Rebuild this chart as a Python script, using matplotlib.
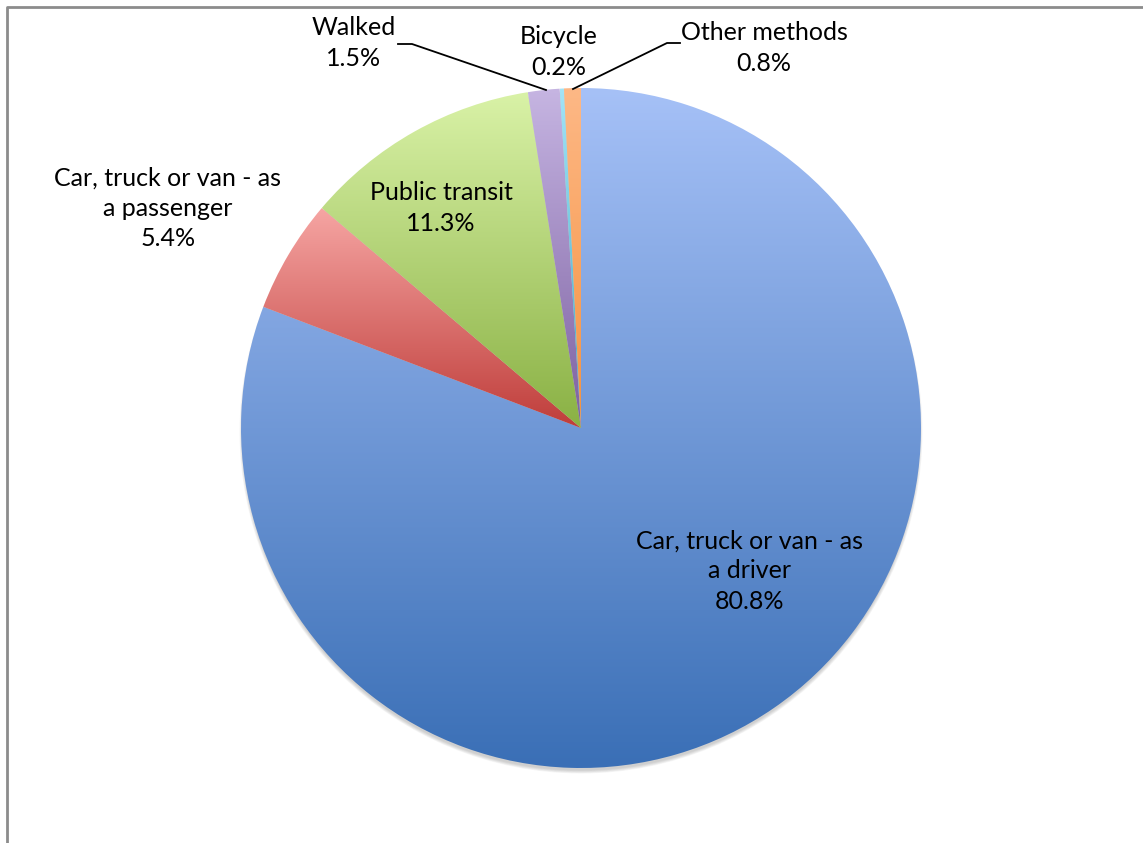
import matplotlib
matplotlib.use('Agg')
import matplotlib.pyplot as plt
import numpy as np
from matplotlib.colors import LinearSegmentedColormap
from matplotlib.patches import Circle

# data
categories = ['Car, truck or van - as a driver', 'Car, truck or van - as a passenger',
              'Public transit', 'Walked', 'Bicycle', 'Other methods']
shares = [80.8, 5.4, 11.3, 1.5, 0.2, 0.8]
label_texts = ['Car, truck or van - as\na driver', 'Car, truck or van - as\na passenger',
               'Public transit', 'Walked', 'Bicycle', 'Other methods']

# gradient colours per slice (top, bottom)
grad_colors = [('#a6c1f7', '#3a6fb6'), ('#f6a5a3', '#bf3d3a'), ('#d9f2a7', '#8ab144'),
               ('#c6b5e2', '#7c60a1'), ('#a3e4f7', '#3fa6c3'), ('#fdb886', '#f5923f')]

W, H = 1143, 843
fig = plt.figure(figsize=(W / 100, H / 100), dpi=100)
ax = fig.add_axes([0, 0, 1, 1])
plt.rcParams['font.family'] = ['Lato', 'DejaVu Sans']

def Y(y):
    # screen pixel y -> data y
    return H - y

cx, cy, r = 581, Y(428), 340

# soft shadow under the pie
for i in range(6):
    ax.add_patch(Circle((cx, cy - 4), r + 1.5 - i * 0.6, color='#808080', alpha=0.07, lw=0, zorder=1))

wedges, _ = ax.pie(shares, center=(cx, cy), radius=r, startangle=90, counterclock=False,
                   wedgeprops=dict(linewidth=0))

for w, (ctop, cbot) in zip(wedges, grad_colors):
    w.set_facecolor('none')
    w.set_zorder(2)
    ext = w.get_path().get_extents(w.get_patch_transform())
    cmap = LinearSegmentedColormap.from_list('g', [cbot, ctop])
    grad = np.linspace(0, 1, 256).reshape(-1, 1)
    im = ax.imshow(grad, extent=[ext.x0, ext.x1, ext.y0, ext.y1], origin='lower',
                   cmap=cmap, aspect='auto', interpolation='bilinear', zorder=2)
    im.set_clip_path(w)

# data labels
label_pos = [(750, 571), (168, 208), (441, 208), (354, 43), (559, 52), (764, 48)]
for txt, val, (lx, ly) in zip(label_texts, shares, label_pos):
    ax.text(lx, Y(ly), '%s\n%.1f%%' % (txt, val), ha='center', va='center',
            fontsize=18, linespacing=1.38, color='black', zorder=5)

# leader lines
ax.plot([398, 412, 546], [Y(44), Y(44), Y(90)], color='black', lw=1.3, zorder=4)
ax.plot([680, 667, 573], [Y(43), Y(43), Y(89)], color='black', lw=1.3, zorder=4)

# chart frame (left and top edges only)
ax.plot([7, 7, W], [0, Y(7), Y(7)], color='#8c8c8c', lw=2, zorder=6)

ax.set_xlim(0, W)
ax.set_ylim(0, H)
ax.axis('off')
fig.savefig('out.png', dpi=100, facecolor='white')
